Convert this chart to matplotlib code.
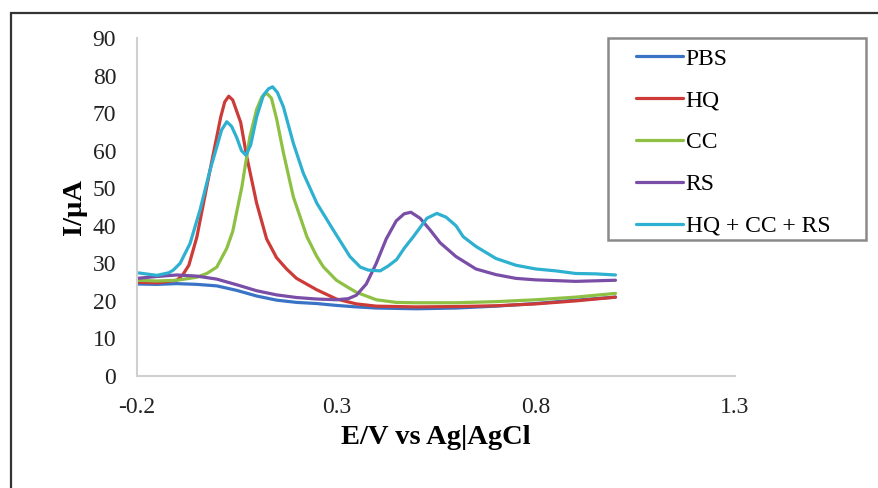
import numpy as np
import matplotlib.pyplot as plt
from matplotlib.patches import Rectangle

# differential pulse voltammograms (E in V, I in uA)
pbs_e = [-0.2, -0.15, -0.1, -0.05, 0.0, 0.05, 0.1, 0.15, 0.2, 0.25, 0.3, 0.35, 0.4, 0.5, 0.6, 0.7, 0.8, 0.9, 1.0]
pbs_i = [24.5, 24.4, 24.6, 24.4, 24.0, 22.8, 21.3, 20.2, 19.6, 19.3, 18.8, 18.4, 18.1, 17.9, 18.1, 18.6, 19.3, 20.2, 21.0]

hq_e = [-0.2, -0.15, -0.1, -0.085, -0.07, -0.05, -0.025, -0.01, 0.0, 0.01, 0.02, 0.03, 0.04, 0.05,
        0.06, 0.075, 0.1, 0.125, 0.15, 0.175, 0.2, 0.25, 0.3, 0.35, 0.4, 0.5, 0.6, 0.7, 0.8, 0.9, 1.0]
hq_i = [25.0, 24.8, 25.5, 27.0, 29.5, 37.0, 50.5, 58.5, 63.7, 69.0, 73.0, 74.5, 73.5, 70.5,
        67.5, 58.5, 46.0, 36.5, 31.5, 28.5, 26.0, 23.0, 20.5, 19.2, 18.6, 18.4, 18.5, 18.7, 19.2, 20.0, 21.0]

cc_e = [-0.2, -0.15, -0.1, -0.05, -0.025, 0.0, 0.01, 0.025, 0.04, 0.063, 0.083, 0.1, 0.113, 0.125,
        0.137, 0.15, 0.167, 0.192, 0.226, 0.25, 0.267, 0.3, 0.326, 0.35, 0.4, 0.45, 0.5, 0.6, 0.7,
        0.8, 0.9, 1.0]
cc_i = [25.5, 25.3, 25.5, 26.3, 27.3, 29.0, 31.0, 34.0, 38.5, 50.4, 63.7, 71.0, 74.3, 75.3,
        74.0, 68.5, 59.5, 47.7, 37.1, 32.0, 29.1, 25.5, 23.8, 22.3, 20.3, 19.6, 19.5, 19.5, 19.8,
        20.3, 21.0, 22.0]

rs_e = [-0.2, -0.15, -0.1, -0.05, 0.0, 0.05, 0.1, 0.15, 0.2, 0.25, 0.3, 0.33, 0.35, 0.375, 0.4,
        0.425, 0.45, 0.47, 0.487, 0.51, 0.535, 0.56, 0.6, 0.65, 0.7, 0.75, 0.8, 0.9, 1.0]
rs_i = [26.0, 26.5, 26.9, 26.6, 25.8, 24.3, 22.7, 21.6, 20.9, 20.5, 20.3, 20.6, 21.5, 24.5, 30.0,
        36.5, 41.3, 43.2, 43.6, 42.0, 38.9, 35.5, 31.8, 28.5, 27.0, 26.0, 25.6, 25.2, 25.5]

mix_e = [-0.2, -0.15, -0.12, -0.109, -0.092, -0.067, -0.042, -0.017, 0.0, 0.012, 0.025, 0.037,
         0.05, 0.062, 0.073, 0.085, 0.1, 0.117, 0.13, 0.14, 0.152, 0.167, 0.192, 0.217, 0.251,
         0.292, 0.334, 0.36, 0.38, 0.41, 0.43, 0.451, 0.47, 0.493, 0.527, 0.552, 0.575, 0.6,
         0.618, 0.65, 0.7, 0.75, 0.8, 0.85, 0.9, 0.95, 1.0]
mix_i = [27.5, 26.8, 27.5, 28.2, 30.0, 35.3, 44.2, 54.8, 61.0, 65.5, 67.7, 66.5,
         63.5, 60.0, 58.8, 61.5, 69.0, 74.8, 76.5, 77.0, 75.5, 71.7, 62.0, 54.0, 46.0,
         38.9, 31.8, 29.0, 28.2, 28.0, 29.3, 31.0, 34.0, 37.1, 42.0, 43.3, 42.3, 40.0,
         37.1, 34.5, 31.3, 29.5, 28.5, 28.0, 27.3, 27.2, 26.9]

labels = ['PBS', 'HQ', 'CC', 'RS', 'HQ + CC + RS']
colors = ['#3a73c6', '#cc3b37', '#8dc043', '#7a4ea6', '#2eb0d0']

x_ticks = [-0.2, 0.3, 0.8, 1.3]
y_ticks = [0, 10, 20, 30, 40, 50, 60, 70, 80, 90]

plt.rcParams['font.family'] = ['Liberation Serif', 'DejaVu Serif']

fig = plt.figure(figsize=(8.79, 4.88), dpi=100)
ax = fig.add_axes([0.1559, 0.2295, 0.6804, 0.6926])

series = [(pbs_e, pbs_i), (hq_e, hq_i), (cc_e, cc_i), (rs_e, rs_i), (mix_e, mix_i)]
for (e, i), lab, c in zip(series, labels, colors):
    ax.plot(e, i, color=c, lw=2.3, label=lab, solid_capstyle='round', solid_joinstyle='round')

ax.set_xlim(-0.2, 1.3)
ax.set_ylim(0, 90)
ax.set_xticks(x_ticks)
ax.set_xticklabels(['-0.2', '0.3', '0.8', '1.3'])
ax.set_yticks(y_ticks)
ax.tick_params(length=0, labelsize=17, colors='#222222', pad=15)
ax.tick_params(axis='y', pad=15)
for s in ['top', 'right']:
    ax.spines[s].set_visible(False)
for s in ['left', 'bottom']:
    ax.spines[s].set_color('#d0d0d0')
    ax.spines[s].set_linewidth(1.5)

ax.set_xlabel('E/V vs Ag|AgCl', fontsize=20.5, fontweight='bold', labelpad=5)
ax.set_ylabel('I/µA', fontsize=20.5, fontweight='bold', labelpad=4)

# legend entries placed without a frame, the box is drawn separately
leg = ax.legend(loc='upper left', bbox_to_anchor=(636 / 879, 1 - 48 / 488), bbox_transform=fig.transFigure,
                fontsize=17, frameon=False, handlelength=2.0, handletextpad=0.1,
                labelspacing=0.86, borderpad=0, borderaxespad=0)
fig.patches.append(Rectangle((608 / 879, 1 - 240 / 488), 258 / 879, 202 / 488, transform=fig.transFigure,
                             fill=False, edgecolor='#8a8a8a', lw=1.8))

# outer frame of the original figure panel
fig.patches.append(Rectangle((11 / 879, -0.2), 1.2, 0.2 + 1 - 13 / 488, transform=fig.transFigure,
                             fill=False, edgecolor='#333333', lw=1.6, clip_on=False))

fig.savefig('out.png', dpi=100)
